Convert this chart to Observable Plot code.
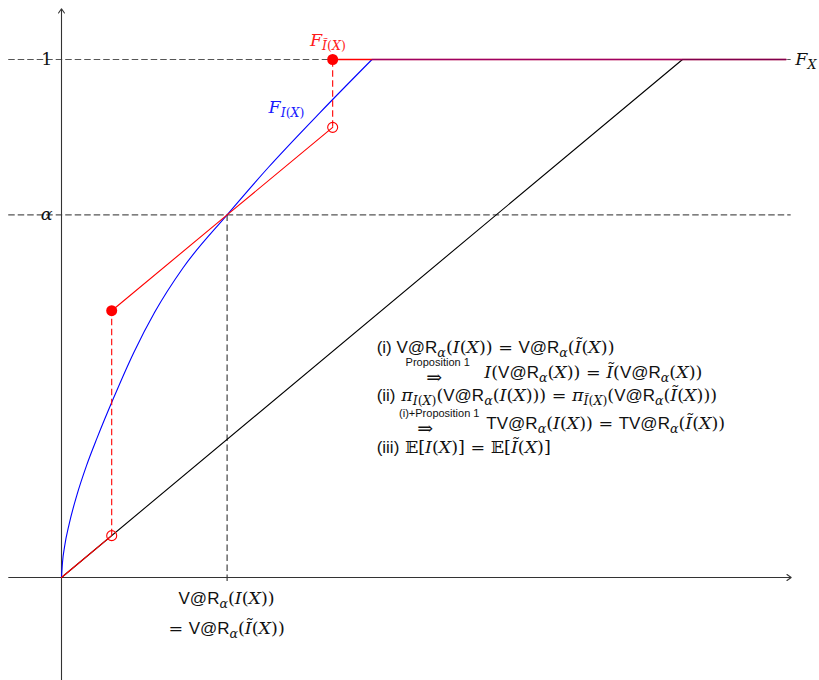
<!DOCTYPE html>
<html>
<head>
<meta charset="utf-8">
<script src="https://cdn.jsdelivr.net/npm/d3@7"></script>
<script src="https://cdn.jsdelivr.net/npm/@observablehq/plot@0.6"></script>
<style>
  body { margin: 0; background: #fff; }
  #chart svg { display: block; }
</style>
</head>
<body>
<div id="chart"></div>
<script>
// Distribution functions of X, I(X) and Ĩ(X)
const alpha = 0.7;          // probability level α
const varAlpha = 3.2;       // V@R_α(I(X)) = V@R_α(Ĩ(X))

const cdfX = [{x: 0, y: 0}, {x: 12, y: 1}];
const cdfXTail = [{x: 12, y: 1}, {x: 14, y: 1}];

const cdfI = [
  {x: 0, y: 0}, {x: 0.02, y: 0.03}, {x: 0.06, y: 0.06}, {x: 0.15, y: 0.104},
  {x: 0.3, y: 0.16}, {x: 0.48, y: 0.215}, {x: 0.69, y: 0.27}, {x: 1, y: 0.345},
  {x: 1.4, y: 0.435}, {x: 1.8, y: 0.512}, {x: 2.35, y: 0.598}, {x: 3.2, y: 0.7},
  {x: 4, y: 0.792}, {x: 5, y: 0.898}, {x: 6, y: 1}
];
const cdfITail = [{x: 6, y: 1}, {x: 14, y: 1}];

const cdfTildeLow = [{x: 0, y: 0}, {x: 0.97, y: 0.0808}];
const cdfTildeMid = [{x: 0.97, y: 0.515}, {x: 3.2, y: 0.7}, {x: 5.24, y: 0.869}];
const cdfTildeTop = [{x: 5.24, y: 1}, {x: 14, y: 1}];

const filledDots = [{x: 0.97, y: 0.515}, {x: 5.24, y: 1}];
const openDots = [{x: 0.97, y: 0.0808}, {x: 5.24, y: 0.869}];
const jumps = [{x: 0.97, y1: 0.0808, y2: 0.515}, {x: 5.24, y1: 0.869, y2: 1}];

const axes = [
  {x1: -1.02, y1: 0, x2: 14.1, y2: 0},
  {x1: 0, y1: -0.21, x2: 0, y2: 1.098}
];
const levels = [1, alpha];

// Labels: «…» = sans text, _{…} subscript, ^{…} superscript
const tickLabels = [
  {y: 1, m: "1"},
  {y: alpha, m: "α"}
];
const curveLabels = [
  {x: 4.8, y: 1.027, m: "F_{Ĩ(X)}", color: "#ff1a1a"},
  {x: 4.0, y: 0.896, m: "F_{I(X)}", color: "#1a1aff"},
  {x: 14.18, y: 0.99, m: "F_{X}", color: "#111"}
];
const varLabels = [
  {x: 3.19, y: -0.052, m: "«V@R»_{α}(I(X))"},
  {x: 3.19, y: -0.110, m: "= «V@R»_{α}(Ĩ(X))"}
];
const statements = [
  {x: 6.09, y: 0.434, m: "«(i) V@R»_{α}(I(X)) = «V@R»_{α}(Ĩ(X))"},
  {x: 8.17, y: 0.386, m: "I(«V@R»_{α}(X)) = Ĩ(«V@R»_{α}(X))"},
  {x: 6.09, y: 0.340, m: "«(ii)» π_{I(X)}(«V@R»_{α}(I(X))) = π_{Ĩ(X)}(«V@R»_{α}(Ĩ(X)))"},
  {x: 8.21, y: 0.286, m: "«TV@R»_{α}(I(X)) = «TV@R»_{α}(Ĩ(X))"},
  {x: 6.09, y: 0.241, m: "«(iii)» 𝔼[I(X)] = 𝔼[Ĩ(X)]"}
];
const arrowNotes = [
  {x: 7.27, y: 0.408, label: "Proposition 1"},
  {x: 7.3, y: 0.309, label: "(i)+Proposition 1"}
];
const implies = [
  {x: 7.2, y: 0.374, label: "⇒"},
  {x: 7.03, y: 0.276, label: "⇒"}
];

const SERIF = "'DejaVu Serif', 'Liberation Serif', serif";
const SANS = "'Liberation Sans', 'DejaVu Sans', sans-serif";
const serifSize = 17.5;
const sansSize = 17;

const strip = (m) => m.replace(/[«»]/g, "").replace(/[_^]\{/g, "").replace(/\}/g, "");

const dashGray = "#555";
const lw = 1.1;

const chart = Plot.plot({
  width: 819,
  height: 680,
  margin: 0,
  x: {domain: [-61 / 51.75, 758 / 51.75], axis: null},
  y: {domain: [-103 / 518, 577 / 518], axis: null},
  style: {background: "#fff", overflow: "hidden"},
  marks: [
    // reference levels 1 and α
    Plot.ruleY(levels, {x1: -1.02, x2: 14.1, stroke: dashGray, strokeWidth: 1.1, strokeDasharray: "6.5,3"}),
    // V@R guide
    Plot.ruleX([varAlpha], {y1: alpha, y2: -0.012, stroke: "#333", strokeWidth: 1.1, strokeDasharray: "6.5,3.5"}),
    // coordinate axes
    Plot.arrow(axes, {x1: "x1", y1: "y1", x2: "x2", y2: "y2", stroke: "#333", strokeWidth: 1.1, headLength: 7, headAngle: 70}),
    // F_X
    Plot.line(cdfX, {x: "x", y: "y", stroke: "#000", strokeWidth: lw}),
    // F_I(X)
    Plot.line(cdfI, {x: "x", y: "y", stroke: "#0000ff", strokeWidth: lw, curve: "monotone-x"}),
    // F_Ĩ(X)
    Plot.ruleX(jumps, {x: "x", y1: "y1", y2: "y2", stroke: "#ff0000", strokeWidth: lw, strokeDasharray: "6.5,3.5"}),
    Plot.line(cdfTildeLow, {x: "x", y: "y", stroke: "#ff0000", strokeWidth: lw}),
    Plot.line(cdfTildeMid, {x: "x", y: "y", stroke: "#ff0000", strokeWidth: lw}),
    Plot.line(cdfTildeTop, {x: "x", y: "y", stroke: "#ff0000", strokeWidth: 1.3}),
    Plot.line(cdfITail, {x: "x", y: "y", stroke: "#0000ff", strokeWidth: 1.3, strokeOpacity: 0.38}),
    Plot.line(cdfXTail, {x: "x", y: "y", stroke: "#000", strokeWidth: 1.3, strokeOpacity: 0.2}),
    Plot.dot(filledDots, {x: "x", y: "y", r: 5.5, fill: "#ff0000", stroke: "none"}),
    Plot.dot(openDots, {x: "x", y: "y", r: 5, fill: "none", stroke: "#ff0000", strokeWidth: 1.1}),
    // labels
    Plot.text(tickLabels, {x: 0, y: "y", text: (d) => strip(d.m), dx: -9, textAnchor: "end", fill: "#111", fontSize: 16}),
    Plot.text(curveLabels, {x: "x", y: "y", text: (d) => strip(d.m), fill: "color", textAnchor: "start", lineAnchor: "bottom"}),
    Plot.text(varLabels, {x: "x", y: "y", text: (d) => strip(d.m), fill: "#111", textAnchor: "middle", lineAnchor: "bottom"}),
    Plot.text(statements, {x: "x", y: "y", text: (d) => strip(d.m), fill: "#111", textAnchor: "start", lineAnchor: "bottom"}),
    Plot.text(arrowNotes, {x: "x", y: "y", text: "label", fill: "#111", textAnchor: "middle", lineAnchor: "bottom", fontFamily: SANS, fontSize: 11}),
    Plot.text(implies, {x: "x", y: "y", text: "label", fill: "#111", textAnchor: "middle", lineAnchor: "bottom", fontFamily: SERIF, fontSize: 19})
  ]
});

document.getElementById("chart").appendChild(chart);

// Typeset labels: italic serif letters, upright serif symbols, sans names, sub/superscripts
const markup = new Map();
for (const d of [...tickLabels, ...curveLabels, ...varLabels, ...statements]) markup.set(strip(d.m), d.m);

function typeset(el, m) {
  const runs = [];
  let sans = false, level = 0;
  const stack = [];
  const chars = Array.from(m);
  for (let i = 0; i < chars.length; i++) {
    const c = chars[i];
    if (c === "«") { sans = true; continue; }
    if (c === "»") { sans = false; continue; }
    if ((c === "_" || c === "^") && chars[i + 1] === "{") { stack.push(level); level = c === "_" ? -1 : 1; i++; continue; }
    if (c === "}") { level = stack.pop(); continue; }
    const cls = sans ? "sf" : (/[A-Za-zĨπα]/.test(c) ? "it" : "rm");
    const last = runs[runs.length - 1];
    if (last && last.cls === cls && last.level === level) last.t += c;
    else runs.push({t: c, cls, level});
  }
  const sel = d3.select(el);
  sel.text(null).style("white-space", "pre");
  let cur = 0;
  for (const r of runs) {
    const scale = r.level ? 0.72 : 1;
    const off = r.level === -1 ? 4 : r.level === 1 ? -6 : 0;
    sel.append("tspan")
      .attr("dy", off - cur)
      .style("font-family", r.cls === "sf" ? SANS : SERIF)
      .style("font-style", r.cls === "it" ? "italic" : "normal")
      .style("font-size", ((r.cls === "sf" ? sansSize : serifSize) * scale) + "px")
      .text(r.t);
    cur = off;
  }
}

d3.select(chart).selectAll("text").each(function () {
  const t = this.textContent;
  if (markup.has(t)) typeset(this, markup.get(t));
});
</script>
</body>
</html>
